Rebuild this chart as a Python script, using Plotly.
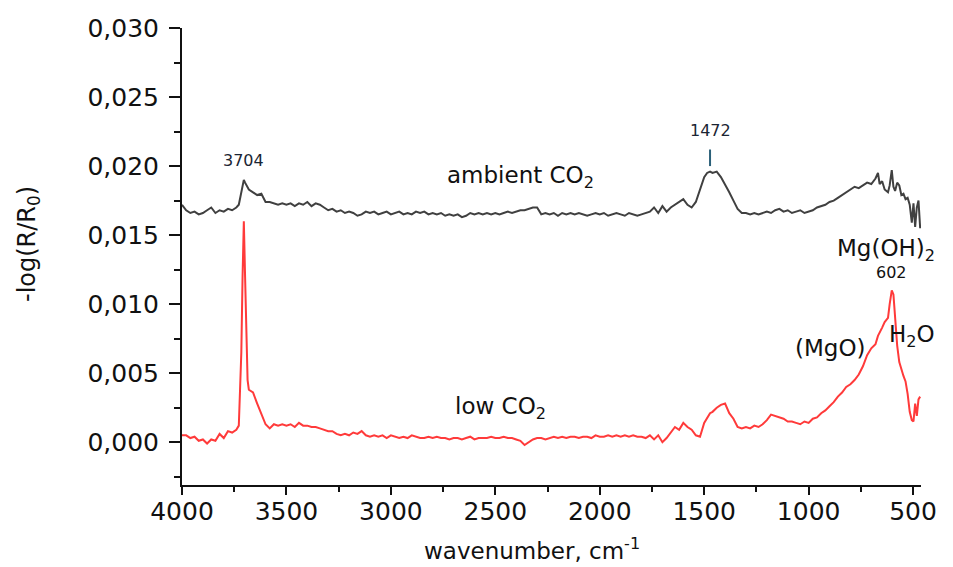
import plotly.graph_objects as go

# Wavenumber grid (cm-1), shared by both spectra
wavenumber = [
    4000, 3980, 3960, 3940, 3920, 3900, 3880, 3860, 3840, 3820, 3800, 3780, 3760, 3740,
    3728, 3716, 3710, 3704, 3698, 3692, 3686, 3680, 3660, 3640, 3620, 3600, 3580, 3560,
    3540, 3520, 3500, 3480, 3460, 3440, 3420, 3400, 3380, 3360, 3340, 3320, 3300, 3280,
    3260, 3240, 3220, 3200, 3180, 3160, 3140, 3120, 3100, 3080, 3060, 3040, 3020, 3000,
    2980, 2960, 2940, 2920, 2900, 2880, 2860, 2840, 2820, 2800, 2780, 2760, 2740, 2720,
    2700, 2680, 2660, 2640, 2620, 2600, 2580, 2560, 2540, 2520, 2500, 2480, 2460, 2440,
    2420, 2400, 2380, 2360, 2340, 2320, 2300, 2280, 2260, 2240, 2220, 2200, 2180, 2160,
    2140, 2120, 2100, 2080, 2060, 2040, 2020, 2000, 1980, 1960, 1940, 1920, 1900, 1880,
    1860, 1840, 1820, 1800, 1780, 1760, 1740, 1720, 1700, 1680, 1660, 1640, 1620, 1600,
    1580, 1560, 1540, 1520, 1500, 1486, 1472, 1460, 1440, 1420, 1400, 1380, 1360, 1340,
    1320, 1300, 1280, 1260, 1240, 1220, 1200, 1180, 1160, 1140, 1120, 1100, 1080, 1060,
    1040, 1020, 1000, 980, 960, 940, 920, 900, 880, 860, 840, 820, 800, 780,
    760, 740, 720, 700, 680, 668, 660, 648, 636, 620, 612, 602, 594, 586,
    576, 566, 556, 546, 536, 526, 516, 506, 498, 490, 482, 474, 466,
]

# -log(R/R0) under ambient CO2
ambient_co2 = [
    0.0172, 0.0168, 0.0166, 0.0167, 0.0165, 0.0166, 0.0168, 0.0170, 0.0166, 0.0168, 0.0167, 0.0169, 0.0168, 0.0170,
    0.0172, 0.0181, 0.0186, 0.0190, 0.0188, 0.0186, 0.0184, 0.0183, 0.0181, 0.0179, 0.0180, 0.0174, 0.0174, 0.0173,
    0.0172, 0.0173, 0.0172, 0.0173, 0.0171, 0.0173, 0.0172, 0.0174, 0.0171, 0.0173, 0.0172, 0.0170, 0.0168, 0.0169,
    0.0167, 0.0168, 0.0166, 0.0167, 0.0166, 0.0164, 0.0165, 0.0167, 0.0166, 0.0167, 0.0165, 0.0166, 0.0167, 0.0165,
    0.0166, 0.0167, 0.0165, 0.0166, 0.0165, 0.0167, 0.0166, 0.0167, 0.0165, 0.0166, 0.0165, 0.0166, 0.0164, 0.0165,
    0.0164, 0.0165, 0.0163, 0.0164, 0.0166, 0.0165, 0.0166, 0.0165, 0.0166, 0.0165, 0.0166, 0.0165, 0.0166, 0.0167,
    0.0166, 0.0167, 0.0168, 0.0168, 0.0169, 0.0170, 0.0170, 0.0165, 0.0166, 0.0165, 0.0166, 0.0164, 0.0166, 0.0165,
    0.0166, 0.0165, 0.0166, 0.0165, 0.0164, 0.0165, 0.0166, 0.0165, 0.0166, 0.0164, 0.0165, 0.0166, 0.0165, 0.0164,
    0.0166, 0.0165, 0.0164, 0.0165, 0.0166, 0.0167, 0.0170, 0.0166, 0.0171, 0.0167, 0.0170, 0.0172, 0.0174, 0.0176,
    0.0172, 0.0170, 0.0174, 0.0183, 0.0192, 0.0195, 0.0196, 0.0195, 0.0196, 0.0192, 0.0187, 0.0181, 0.0175, 0.0169,
    0.0166, 0.0166, 0.0165, 0.0166, 0.0165, 0.0166, 0.0167, 0.0166, 0.0168, 0.0169, 0.0167, 0.0168, 0.0166, 0.0167,
    0.0168, 0.0166, 0.0167, 0.0168, 0.0170, 0.0171, 0.0172, 0.0174, 0.0175, 0.0177, 0.0179, 0.0181, 0.0183, 0.0185,
    0.0184, 0.0186, 0.0188, 0.0187, 0.0191, 0.0195, 0.0187, 0.0189, 0.0183, 0.0181, 0.0186, 0.0197, 0.0185, 0.0182,
    0.0188, 0.0186, 0.0179, 0.0180, 0.0176, 0.0177, 0.0172, 0.0159, 0.0173, 0.0156, 0.0170, 0.0175, 0.0155,
]

# -log(R/R0) under low CO2
low_co2 = [
    0.0005, 0.0005, 0.0003, 0.0004, 0.0001, 0.0002, -0.0001, 0.0002, 0.0001, 0.0006, 0.0003, 0.0008, 0.0007, 0.0009,
    0.0012, 0.0065, 0.0120, 0.0160, 0.0120, 0.0070, 0.0045, 0.0038, 0.0036, 0.0028, 0.0020, 0.0013, 0.0010, 0.0013,
    0.0012, 0.0013, 0.0012, 0.0013, 0.0011, 0.0014, 0.0012, 0.0012, 0.0011, 0.0011, 0.0010, 0.0009, 0.0008, 0.0008,
    0.0006, 0.0005, 0.0006, 0.0005, 0.0007, 0.0006, 0.0008, 0.0005, 0.0004, 0.0005, 0.0004, 0.0005, 0.0003, 0.0005,
    0.0004, 0.0003, 0.0004, 0.0003, 0.0005, 0.0004, 0.0003, 0.0003, 0.0004, 0.0003, 0.0004, 0.0003, 0.0003, 0.0002,
    0.0003, 0.0003, 0.0002, 0.0003, 0.0004, 0.0002, 0.0003, 0.0003, 0.0003, 0.0004, 0.0003, 0.0003, 0.0004, 0.0003,
    0.0003, 0.0002, 0.0001, -0.0002, 0.0000, 0.0002, 0.0003, 0.0003, 0.0002, 0.0003, 0.0004, 0.0003, 0.0004, 0.0003,
    0.0004, 0.0004, 0.0003, 0.0004, 0.0004, 0.0003, 0.0005, 0.0004, 0.0004, 0.0005, 0.0004, 0.0005, 0.0004, 0.0005,
    0.0004, 0.0005, 0.0004, 0.0004, 0.0003, 0.0005, 0.0002, 0.0005, 0.0000, 0.0003, 0.0007, 0.0011, 0.0009, 0.0014,
    0.0011, 0.0009, 0.0005, 0.0004, 0.0014, 0.0018, 0.0021, 0.0022, 0.0025, 0.0027, 0.0028, 0.0021, 0.0017, 0.0011,
    0.0010, 0.0011, 0.0010, 0.0012, 0.0011, 0.0013, 0.0016, 0.0020, 0.0019, 0.0018, 0.0017, 0.0015, 0.0015, 0.0014,
    0.0013, 0.0015, 0.0014, 0.0017, 0.0018, 0.0021, 0.0023, 0.0026, 0.0029, 0.0033, 0.0036, 0.0040, 0.0042, 0.0045,
    0.0049, 0.0055, 0.0063, 0.0068, 0.0071, 0.0077, 0.0079, 0.0083, 0.0087, 0.0090, 0.0100, 0.0110, 0.0107, 0.0090,
    0.0070, 0.0058, 0.0052, 0.0048, 0.0044, 0.0035, 0.0022, 0.0016, 0.0015, 0.0028, 0.0019, 0.0031, 0.0033,
]

FONT = "DejaVu Sans, Liberation Sans, sans-serif"
W, H = 953, 567
M_L, M_R, M_T, M_B = 182, 32, 28, 82
INK = "#111111"


def paper_x(px):
    return (px - M_L) / (W - M_L - M_R)


def paper_y(py):
    return (H - M_B - py) / (H - M_T - M_B)


fig = go.Figure()
fig.add_trace(go.Scatter(x=wavenumber, y=ambient_co2, mode="lines",
                         line=dict(color="#404040", width=2), name="ambient CO2"))
fig.add_trace(go.Scatter(x=wavenumber, y=low_co2, mode="lines",
                         line=dict(color="#ff3a3a", width=2), name="low CO2"))

# small marker line above the 1472 band
fig.add_shape(type="line", xref="x", yref="y", x0=1472, x1=1472, y0=0.0200, y1=0.0212,
              line=dict(color="#2b6079", width=2))

label_font = dict(family=FONT, size=23, color=INK)
peak_font = dict(family=FONT, size=16, color="#1b2533")
annotations = [
    dict(x=3704, y=0.0204, text="3704", font=peak_font),
    dict(x=1472, y=0.0226, text="1472", font=peak_font),
    dict(x=602, y=0.0123, text="602", font=dict(family=FONT, size=16, color=INK)),
    dict(x=2380, y=0.0192, text="ambient CO<sub>2</sub>", font=label_font),
    dict(x=2476, y=0.0025, text="low CO<sub>2</sub>", font=label_font),
    dict(x=630, y=0.0139, text="Mg(OH)<sub>2</sub>", font=label_font),
    dict(x=894, y=0.0068, text="(MgO)", font=label_font),
    dict(x=505, y=0.0077, text="H<sub>2</sub>O", font=label_font),
]
for a in annotations:
    a.update(xref="x", yref="y", showarrow=False, xanchor="center", yanchor="middle")

annotations.append(dict(xref="paper", yref="paper", x=paper_x(28), y=paper_y(244),
                        xanchor="center", yanchor="middle",
                        text="-log(R/R<sub>0</sub>)", textangle=-90, showarrow=False,
                        font=dict(family=FONT, size=24, color=INK)))
annotations.append(dict(xref="paper", yref="paper", x=paper_x(532), y=paper_y(549),
                        xanchor="center", yanchor="middle",
                        text="wavenumber, cm<sup>-1</sup>", showarrow=False,
                        font=dict(family=FONT, size=23, color=INK)))

fig.update_layout(
    width=W, height=H,
    margin=dict(l=M_L, r=M_R, t=M_T, b=M_B),
    paper_bgcolor="white", plot_bgcolor="white",
    showlegend=False,
    separators=",.",
    font=dict(family=FONT, color=INK),
    annotations=annotations,
    xaxis=dict(
        range=[4000, 462], tickmode="linear", tick0=500, dtick=500,
        showgrid=False, zeroline=False,
        showline=True, linecolor=INK, linewidth=2,
        ticks="outside", ticklen=8, tickwidth=2, tickcolor=INK,
        ticklabelstandoff=-5,
        tickfont=dict(family=FONT, size=25, color=INK),
        minor=dict(dtick=250, tick0=500, ticks="outside", ticklen=5, tickwidth=2, tickcolor=INK),
    ),
    yaxis=dict(
        range=[-0.0031, 0.030], tickmode="linear", tick0=0, dtick=0.005, tickformat=".3f",
        showgrid=False, zeroline=False,
        showline=True, linecolor=INK, linewidth=2,
        ticks="outside", ticklen=11, tickwidth=2, tickcolor=INK,
        ticklabelstandoff=5,
        tickfont=dict(family=FONT, size=25, color=INK),
        minor=dict(dtick=0.0025, tick0=0, ticks="outside", ticklen=6, tickwidth=2, tickcolor=INK),
    ),
)

fig.write_html("out.html")
